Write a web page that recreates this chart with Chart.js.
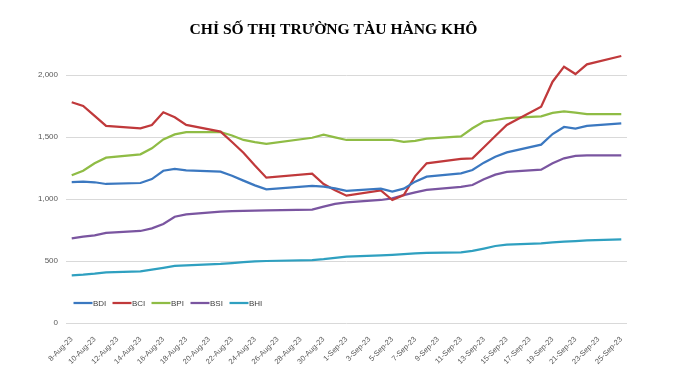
<!DOCTYPE html>
<html>
<head>
<meta charset="utf-8">
<script src="https://cdn.jsdelivr.net/npm/chart.js@4.4.0/dist/chart.umd.min.js"></script>
<style>
  html, body { margin: 0; padding: 0; background: #fff; }
  #wrap { width: 690px; height: 368px; }
</style>
</head>
<body>
<div id="wrap"><canvas id="dryChart" width="690" height="368"></canvas></div>
<script>
// Trục ngày (mọi ngày lịch, nhãn hiện cách 2 ngày)
const days = [
  '8-Aug-23','9-Aug-23','10-Aug-23','11-Aug-23','12-Aug-23','13-Aug-23','14-Aug-23','15-Aug-23',
  '16-Aug-23','17-Aug-23','18-Aug-23','19-Aug-23','20-Aug-23','21-Aug-23','22-Aug-23','23-Aug-23',
  '24-Aug-23','25-Aug-23','26-Aug-23','27-Aug-23','28-Aug-23','29-Aug-23','30-Aug-23','31-Aug-23',
  '1-Sep-23','2-Sep-23','3-Sep-23','4-Sep-23','5-Sep-23','6-Sep-23','7-Sep-23','8-Sep-23',
  '9-Sep-23','10-Sep-23','11-Sep-23','12-Sep-23','13-Sep-23','14-Sep-23','15-Sep-23','16-Sep-23',
  '17-Sep-23','18-Sep-23','19-Sep-23','20-Sep-23','21-Sep-23','22-Sep-23','23-Sep-23','24-Sep-23',
  '25-Sep-23'
];

// Các phiên giao dịch có số liệu
const tradeDays = [
  '8-Aug-23','9-Aug-23','10-Aug-23','11-Aug-23','14-Aug-23','15-Aug-23','16-Aug-23','17-Aug-23',
  '18-Aug-23','21-Aug-23','22-Aug-23','23-Aug-23','24-Aug-23','25-Aug-23','29-Aug-23','30-Aug-23',
  '31-Aug-23','1-Sep-23','4-Sep-23','5-Sep-23','6-Sep-23','7-Sep-23','8-Sep-23','11-Sep-23',
  '12-Sep-23','13-Sep-23','14-Sep-23','15-Sep-23','18-Sep-23','19-Sep-23','20-Sep-23','21-Sep-23',
  '22-Sep-23','25-Sep-23'
];

const bdi = [1137, 1140, 1135, 1121, 1129, 1161, 1228, 1242, 1231, 1220, 1188, 1148, 1110, 1078, 1105, 1100,
             1085, 1065, 1083, 1059, 1083, 1140, 1180, 1207, 1234, 1293, 1341, 1376, 1438, 1524, 1581, 1567,
             1589, 1610];
const bci = [1780, 1750, 1670, 1589, 1570, 1597, 1699, 1659, 1597, 1543, 1460, 1373, 1270, 1172, 1204, 1121,
             1070, 1027, 1070, 992, 1032, 1185, 1288, 1323, 1328, 1417, 1508, 1597, 1744, 1946, 2067, 2008,
             2086, 2153];
const bpi = [1191, 1228, 1288, 1333, 1360, 1409, 1481, 1521, 1540, 1540, 1512, 1476, 1458, 1444, 1494, 1519,
             1497, 1476, 1476, 1476, 1460, 1468, 1486, 1505, 1570, 1624, 1637, 1653, 1667, 1694, 1707, 1696,
             1685, 1685];
const bsi = [683, 696, 707, 726, 742, 763, 798, 857, 876, 898, 903, 905, 906, 908, 914, 938,
             960, 973, 992, 1005, 1032, 1054, 1073, 1097, 1113, 1159, 1196, 1218, 1236, 1288, 1328, 1347,
             1352, 1352];
const bhi = [385, 390, 398, 409, 417, 430, 444, 460, 465, 476, 482, 490, 497, 500, 508, 515,
             525, 535, 546, 550, 556, 562, 566, 570, 581, 600, 621, 632, 643, 651, 656, 661,
             667, 675];

const yTicks = [0, 500, 1000, 1500, 2000];
const chartTitle = 'CHỈ SỐ THỊ TRƯỜNG TÀU HÀNG KHÔ';

// Đưa số liệu phiên vào trục ngày lịch (ngày nghỉ = null, nối thẳng qua)
function toDays(values) {
  return days.map(d => {
    const i = tradeDays.indexOf(d);
    return i < 0 ? null : values[i];
  });
}

function makeSeries(label, values, color) {
  return {
    label: label,
    data: toDays(values),
    borderColor: color,
    backgroundColor: color,
    borderWidth: 2.25,
    pointRadius: 0,
    tension: 0,
    spanGaps: true,
    clip: false
  };
}

// Tiêu đề: vẽ tay để canh giữa như ảnh gốc (lệch trái so với vùng vẽ)
const topTitle = {
  id: 'topTitle',
  afterDraw(chart) {
    const ctx = chart.ctx;
    ctx.save();
    ctx.font = 'bold 15.6px "Liberation Serif", serif';
    ctx.fillStyle = '#000';
    ctx.textAlign = 'center';
    ctx.textBaseline = 'alphabetic';
    ctx.fillText(chartTitle, 333.5, 34);
    ctx.restore();
  }
};

// Chú thích nằm trong vùng vẽ, sát trục hoành
const inlineLegend = {
  id: 'inlineLegend',
  afterDatasetsDraw(chart) {
    const ctx = chart.ctx;
    const area = chart.chartArea;
    let x = area.left + 7.5;
    const y = area.bottom - 20;
    ctx.save();
    ctx.font = '8px "Liberation Sans"';
    ctx.textBaseline = 'middle';
    chart.data.datasets.forEach(ds => {
      ctx.strokeStyle = ds.borderColor;
      ctx.lineWidth = 2.25;
      ctx.beginPath();
      ctx.moveTo(x, y);
      ctx.lineTo(x + 19, y);
      ctx.stroke();
      ctx.fillStyle = '#404040';
      ctx.fillText(ds.label, x + 19.5, y + 0.5);
      x += 39;
    });
    ctx.restore();
  }
};

new Chart(document.getElementById('dryChart'), {
  type: 'line',
  data: {
    labels: days,
    datasets: [
      makeSeries('BDI', bdi, '#3b78c0'),
      makeSeries('BCI', bci, '#c0393b'),
      makeSeries('BPI', bpi, '#8fbc45'),
      makeSeries('BSI', bsi, '#7a55a0'),
      makeSeries('BHI', bhi, '#2fa0c0')
    ]
  },
  options: {
    responsive: false,
    animation: false,
    layout: { padding: { left: 0, right: 63, top: 75, bottom: 0 } },
    plugins: {
      legend: { display: false },
      tooltip: { enabled: false },
      title: { display: false }
    },
    scales: {
      x: {
        offset: true,
        grid: { display: false },
        border: { display: false },
        ticks: {
          autoSkip: false,
          maxRotation: 45,
          minRotation: 45,
          padding: 4,
          color: '#595959',
          font: { family: '"Liberation Sans"', size: 7.5 },
          callback: (v, i) => (i % 2 === 0 ? days[i] : null)
        },
        afterFit: s => { s.height = 45; }
      },
      y: {
        min: 0,
        max: 2000,
        afterBuildTicks: s => { s.ticks = yTicks.map(v => ({ value: v })); },
        grid: { color: '#d9d9d9', lineWidth: 1, drawTicks: false },
        border: { display: false },
        ticks: {
          padding: 8,
          color: '#595959',
          font: { family: '"Liberation Sans"', size: 8 },
          callback: v => v.toLocaleString('en-US')
        },
        afterFit: s => { s.width = 66; }
      }
    }
  },
  plugins: [inlineLegend, topTitle]
});
</script>
</body>
</html>
